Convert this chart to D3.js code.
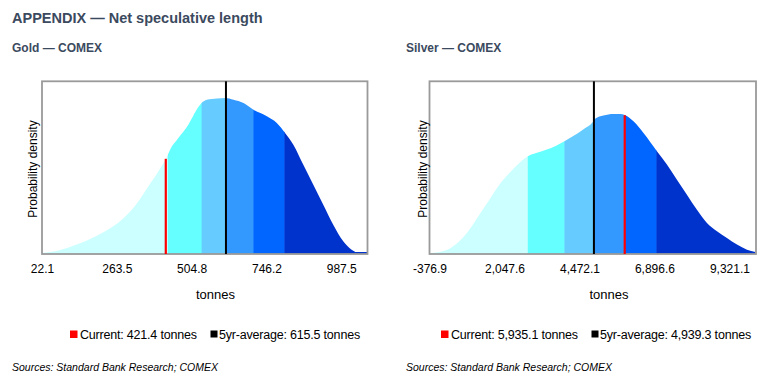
<!DOCTYPE html>
<html>
<head>
<meta charset="utf-8">
<script src="https://cdn.jsdelivr.net/npm/d3@7"></script>
<style>
  html, body { margin: 0; padding: 0; background: #fff; }
  svg { display: block; font-family: "Liberation Sans", Arial, sans-serif; }
</style>
</head>
<body>
<svg id="chart" width="775" height="383"></svg>
<script>
// ---------------- DATA ----------------
const title = "APPENDIX \u2014 Net speculative length";

// Gold — COMEX (tonnes vs relative probability density, peak = 100)
const goldTitle = "Gold \u2014 COMEX";
const goldX = [22.1, 65.2, 118.6, 172.4, 226.1, 279.5, 311.7, 333.2, 365.4, 397.6, 424.3, 435.2, 461.9, 494.1, 520.8, 536.9, 553.6, 586.5, 613.2, 639.9, 672.1, 704.2, 747.4, 779.5, 806.2, 832.9, 865.1, 897.3, 929.4, 961.6, 993.8, 1020.8, 1036.9, 1072.1];
const goldDensity = [0.6, 1.7, 4.9, 9.2, 14.6, 22.0, 28.4, 33.8, 43.4, 53.0, 62.0, 66.9, 74.4, 82.9, 92.5, 96.8, 98.9, 99.6, 100, 98.9, 96.8, 92.5, 88.3, 84.0, 77.6, 70.1, 57.2, 44.4, 31.6, 18.8, 8.1, 2.8, 1.3, 1.3];
const goldBandEdges = [428, 536.9, 615.5, 704.2, 804];
const goldTicks = [22.1, 263.5, 504.8, 746.2, 987.5];
const goldDomain = [22.1, 1072.1];
const goldYMax = 110.7;
const goldCurrent = 421.4;
const goldAverage = 615.5;

// Silver — COMEX
const silverTitle = "Silver \u2014 COMEX";
const silverX = [-376.9, -59.8, 263.9, 587.5, 911.1, 1234.7, 1558.4, 1882.0, 2205.6, 2529.3, 2801.1, 3069.7, 3393.3, 3716.9, 3985.5, 4257.4, 4581.0, 4904.6, 4979.1, 5247.7, 5571.3, 5788.2, 5950, 6218.6, 6542.2, 6975.9, 7299.5, 7623.1, 7946.7, 8270.3, 8594, 8917.6, 9241.2, 9564.8, 9888.5, 10157.1];
const silverDensity = [0.7, 1.4, 3.8, 9.1, 17.4, 28.1, 38.8, 49.5, 57.9, 65.0, 69.8, 72.1, 74.5, 77.4, 80.5, 84.1, 88.8, 94.3, 96.6, 98.9, 100, 100, 99.1, 94.8, 86.4, 73.4, 63.9, 53.1, 42.4, 31.6, 22.1, 16.2, 11.4, 6.7, 3.1, 1.4];
const silverBandEdges = [2801, 3985, 4939.3, 5935.1, 6960];
const silverTicks = [-376.9, 2047.6, 4472.1, 6896.6, 9321.1];
const silverDomain = [-376.9, 10180];
const silverYMax = 123.4;
const silverCurrent = 5935.1;
const silverAverage = 4939.3;

const bandColors = ["#CCFFFF", "#66FFFF", "#66CCFF", "#3399FF", "#0066FF", "#0033CC"];
const sourceText = "Sources: Standard Bank Research; COMEX";

// ---------------- DRAW ----------------
const svg = d3.select("#chart");
const locale = d3.formatLocale({ decimal: ".", thousands: ",", grouping: [3], currency: ["", ""], minus: "-" });
const fmt = locale.format(",.1f");

svg.append("text").attr("x", 12).attr("y", 23)
  .attr("font-size", 14.5).attr("font-weight", "bold").attr("fill", "#3B4A5E")
  .text(title);

function panel(cfg) {
  const top = 81.3, bottom = 254;
  const x = d3.scaleLinear().domain(cfg.domain).range(cfg.xr);
  const y = d3.scaleLinear().domain([0, cfg.yMax]).range([bottom, top]);
  const g = svg.append("g");

  g.append("text").attr("x", cfg.left).attr("y", 52)
    .attr("font-size", 12).attr("font-weight", "bold").attr("fill", "#3B4A5E")
    .text(cfg.title);

  const pts = cfg.xs.map((v, i) => [v, cfg.ds[i]]);
  const area = d3.area().x(d => x(d[0])).y0(bottom).y1(d => y(d[1])).curve(d3.curveMonotoneX);

  const edges = [cfg.domain[0], ...cfg.edges, cfg.domain[1]];
  for (let i = 0; i < edges.length - 1; i++) {
    const id = cfg.id + "clip" + i;
    g.append("clipPath").attr("id", id).append("rect")
      .attr("x", x(edges[i])).attr("width", Math.max(0, x(edges[i + 1]) - x(edges[i])) + (i < edges.length - 2 ? 0.5 : 0))
      .attr("y", top).attr("height", bottom - top);
    g.append("path").datum(pts).attr("d", area)
      .attr("fill", bandColors[i]).attr("clip-path", `url(#${id})`);
  }

  // density at current (linear interpolation)
  const interp = v => {
    const j = d3.bisectLeft(cfg.xs, v);
    const x0 = cfg.xs[j - 1], x1 = cfg.xs[j], d0 = cfg.ds[j - 1], d1 = cfg.ds[j];
    return d0 + (d1 - d0) * (v - x0) / (x1 - x0);
  };

  // frame
  g.append("rect").attr("x", cfg.xr[0]).attr("y", top)
    .attr("width", cfg.xr[1] - cfg.xr[0]).attr("height", bottom - top)
    .attr("fill", "none").attr("stroke", "#9a9a9a").attr("stroke-width", 1.8);

  // 5yr average line
  g.append("line").attr("x1", x(cfg.average)).attr("x2", x(cfg.average))
    .attr("y1", top).attr("y2", bottom).attr("stroke", "#000").attr("stroke-width", 2);
  // current line
  g.append("line").attr("x1", x(cfg.current)).attr("x2", x(cfg.current))
    .attr("y1", y(interp(cfg.current))).attr("y2", bottom).attr("stroke", "#FF0000").attr("stroke-width", 2.2);

  // x axis
  const ax = g.append("g").attr("transform", `translate(0,${bottom + 1})`)
    .call(d3.axisBottom(x).tickValues(cfg.ticks).tickSize(0).tickPadding(9).tickFormat(fmt));
  ax.select(".domain").remove();
  ax.selectAll("text").attr("font-size", 12).attr("fill", "#000")
    .attr("font-family", "Liberation Sans, Arial, sans-serif");

  g.append("text").attr("x", cfg.unitX).attr("y", 299).attr("text-anchor", "middle")
    .attr("font-size", 13).attr("fill", "#000").text("tonnes");

  g.append("text").attr("transform", `translate(${cfg.ylabX},169) rotate(-90)`)
    .attr("text-anchor", "middle").attr("font-size", 12).attr("fill", "#000")
    .text("Probability density");

  // legend
  const lg = g.append("g");
  lg.append("rect").attr("x", cfg.leg[0]).attr("y", 330.5).attr("width", 7.5).attr("height", 7.5).attr("fill", "#FF0000");
  lg.append("text").attr("x", cfg.leg[0] + 10).attr("y", 338.5).attr("font-size", 12.5).attr("fill", "#000")
    .attr("letter-spacing", -0.2)
    .text(`Current: ${fmt(cfg.current)} tonnes`);
  lg.append("rect").attr("x", cfg.leg[1]).attr("y", 330.5).attr("width", 7).attr("height", 7).attr("fill", "#000");
  lg.append("text").attr("x", cfg.leg[1] + 8.5).attr("y", 338.5).attr("font-size", 12.5).attr("fill", "#000")
    .attr("letter-spacing", -0.2)
    .text(`5yr-average: ${fmt(cfg.average)} tonnes`);

  g.append("text").attr("x", cfg.left).attr("y", 371).attr("font-size", 10.5)
    .attr("font-style", "italic").attr("fill", "#000").text(sourceText);
}

panel({ id: "gold", title: goldTitle, left: 12, xs: goldX, ds: goldDensity, edges: goldBandEdges,
  ticks: goldTicks, domain: goldDomain, yMax: goldYMax, current: goldCurrent, average: goldAverage,
  xr: [42, 367.5], unitX: 215.5, ylabX: 37, leg: [70, 210.5] });

panel({ id: "silver", title: silverTitle, left: 406, xs: silverX, ds: silverDensity, edges: silverBandEdges,
  ticks: silverTicks, domain: silverDomain, yMax: silverYMax, current: silverCurrent, average: silverAverage,
  xr: [429.5, 756], unitX: 609, ylabX: 426.5, leg: [441, 591.5] });
</script>
</body>
</html>
